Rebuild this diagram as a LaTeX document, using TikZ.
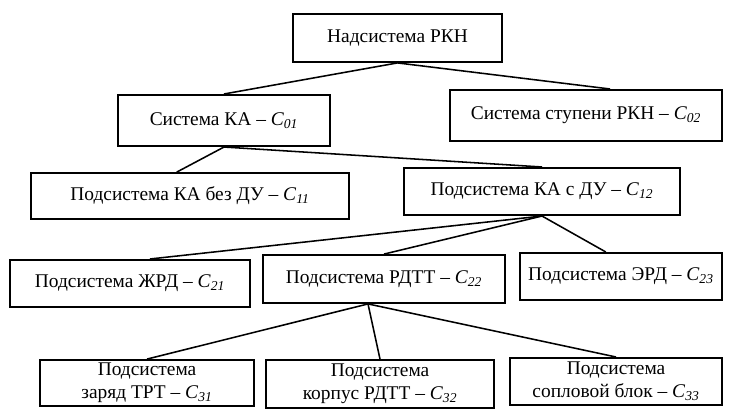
\documentclass[tikz,border=0pt]{standalone}
\usepackage{fontspec}
\setmainfont{Liberation Serif}
\usetikzlibrary{positioning}
\tikzstyle{box} = [rectangle, text centered, align=center, draw=black, line width=1.3pt, inner sep=2pt]
\tikzstyle{line} = [line width=1.1pt]
\tikzstyle{every node}=[font=\fontsize{13.8}{16.5}\selectfont]
\newcommand{\cidx}[1]{\textit{C}\textsubscript{\textit{#1}}}

\begin{document}
\begin{tikzpicture}[x=0.025cm, y=-0.025cm]
\useasboundingbox (0,0) rectangle (740,408);

\node (nad) [box, minimum width=5.22cm, minimum height=1.2cm] at (397.5,38) {Надсистема РКН};
\node (ka) [box, minimum width=5.3cm, minimum height=1.28cm] at (224,120.5) {Система КА – \cidx{01}};
\node (stup) [box, minimum width=6.8cm, minimum height=1.28cm] at (586,115.5) {Система ступени РКН – \cidx{02}};
\node (bezdu) [box, minimum width=7.95cm, minimum height=1.15cm] at (190,196) {Подсистема КА без ДУ – \cidx{11}};
\node (sdu) [box, minimum width=6.88cm, minimum height=1.18cm] at (542,191.5) {Подсистема КА с ДУ – \cidx{12}};
\node (zhrd) [box, minimum width=6cm, minimum height=1.18cm] at (130,283.5) {Подсистема ЖРД – \cidx{21}};
\node (rdtt) [box, minimum width=6.03cm, minimum height=1.2cm] at (384,279) {Подсистема РДТТ – \cidx{22}};
\node (erd) [box, minimum width=5.05cm, minimum height=1.18cm] at (621,276.5) {Подсистема ЭРД – \cidx{23}};
\node (zar) [box, minimum width=5.35cm, minimum height=1.15cm] at (147,383) {Подсистема\\заряд ТРТ – \cidx{31}};
\node (korp) [box, minimum width=5.7cm, minimum height=1.2cm] at (380,384) {Подсистема\\корпус РДТТ – \cidx{32}};
\node (sopl) [box, minimum width=5.3cm, minimum height=1.18cm] at (616,381.5) {Подсистема\\сопловой блок – \cidx{33}};

\draw [line](nad.south) -- (ka.north);
\draw [line](nad.south) -- ([xshift=0.6cm]stup.north);
\draw [line](ka.south) -- ([xshift=-0.33cm]bezdu.north);
\draw [line](ka.south) -- (sdu.north);
\draw [line](sdu.south) -- ([xshift=0.5cm]zhrd.north);
\draw [line](sdu.south) -- (rdtt.north);
\draw [line](sdu.south) -- ([xshift=-0.38cm]erd.north);
\draw [line]([xshift=-0.4cm]rdtt.south) -- (zar.north);
\draw [line]([xshift=-0.4cm]rdtt.south) -- (korp.north);
\draw [line]([xshift=-0.4cm]rdtt.south) -- (sopl.north);

\end{tikzpicture}
\end{document}
